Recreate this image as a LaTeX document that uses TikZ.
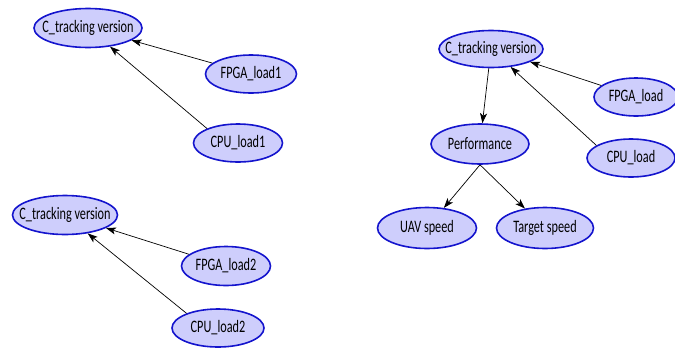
\documentclass[tikz,border=0pt]{standalone}
\usepackage{fontspec}
\usepackage{graphicx}
\setmainfont{Carlito}
\usetikzlibrary{shapes.geometric,arrows.meta}
\definecolor{nodefill}{RGB}{206,206,252}
\definecolor{nodeborder}{RGB}{20,20,205}
\newcommand{\lbl}[1]{\makebox[0pt]{\scalebox{0.7}[1]{#1}}}
\tikzset{
  gnode/.style={ellipse,draw=nodeborder,fill=nodefill,line width=1.6pt,inner sep=0pt,font=\fontsize{17.5}{20}\selectfont},
  garrow/.style={-{Stealth[length=10pt,width=7pt,inset=2.5pt]},line width=0.7pt,black}
}
\begin{document}
\begin{tikzpicture}[x=1pt,y=-1pt]
\useasboundingbox (0,0) rectangle (675,349);
% graph 1
\node[gnode,minimum width=108,minimum height=39] (c1) at (88,28) {\lbl{C\_tracking version}};
\node[gnode,minimum width=91,minimum height=38] (f1) at (251,74) {\lbl{FPGA\_load1}};
\node[gnode,minimum width=89,minimum height=38] (p1) at (238,143) {\lbl{CPU\_load1}};
\draw[garrow] (f1) -- (c1);
\draw[garrow] (p1.155) -- (c1);
% graph 2
\node[gnode,minimum width=105,minimum height=39] (c2) at (65,215) {\lbl{C\_tracking version}};
\node[gnode,minimum width=89,minimum height=39] (f2) at (226,266) {\lbl{FPGA\_load2}};
\node[gnode,minimum width=92,minimum height=38] (p2) at (218,328) {\lbl{CPU\_load2}};
\draw[garrow] (f2) -- (c2);
\draw[garrow] (p2.155) -- (c2);
% graph 3
\node[gnode,minimum width=104,minimum height=37] (c3) at (491,49) {\lbl{C\_tracking version}};
\node[gnode,minimum width=84,minimum height=38] (f3) at (636,97) {\lbl{FPGA\_load}};
\node[gnode,minimum width=88,minimum height=38] (p3) at (631,158) {\lbl{CPU\_load}};
\node[gnode,minimum width=98,minimum height=40] (pf) at (480,144) {\lbl{Performance}};
\node[gnode,minimum width=99,minimum height=41] (uav) at (427,228) {\lbl{UAV speed}};
\node[gnode,minimum width=97,minimum height=41] (tgt) at (545,228) {\lbl{Target speed}};
\draw[garrow] (f3) -- (c3);
\draw[garrow] (p3.160) -- (c3);
\draw[garrow] (c3) -- (pf);
\draw[garrow] (pf.south) -- (uav);
\draw[garrow] (pf.south) -- (tgt);
\end{tikzpicture}
\end{document}
